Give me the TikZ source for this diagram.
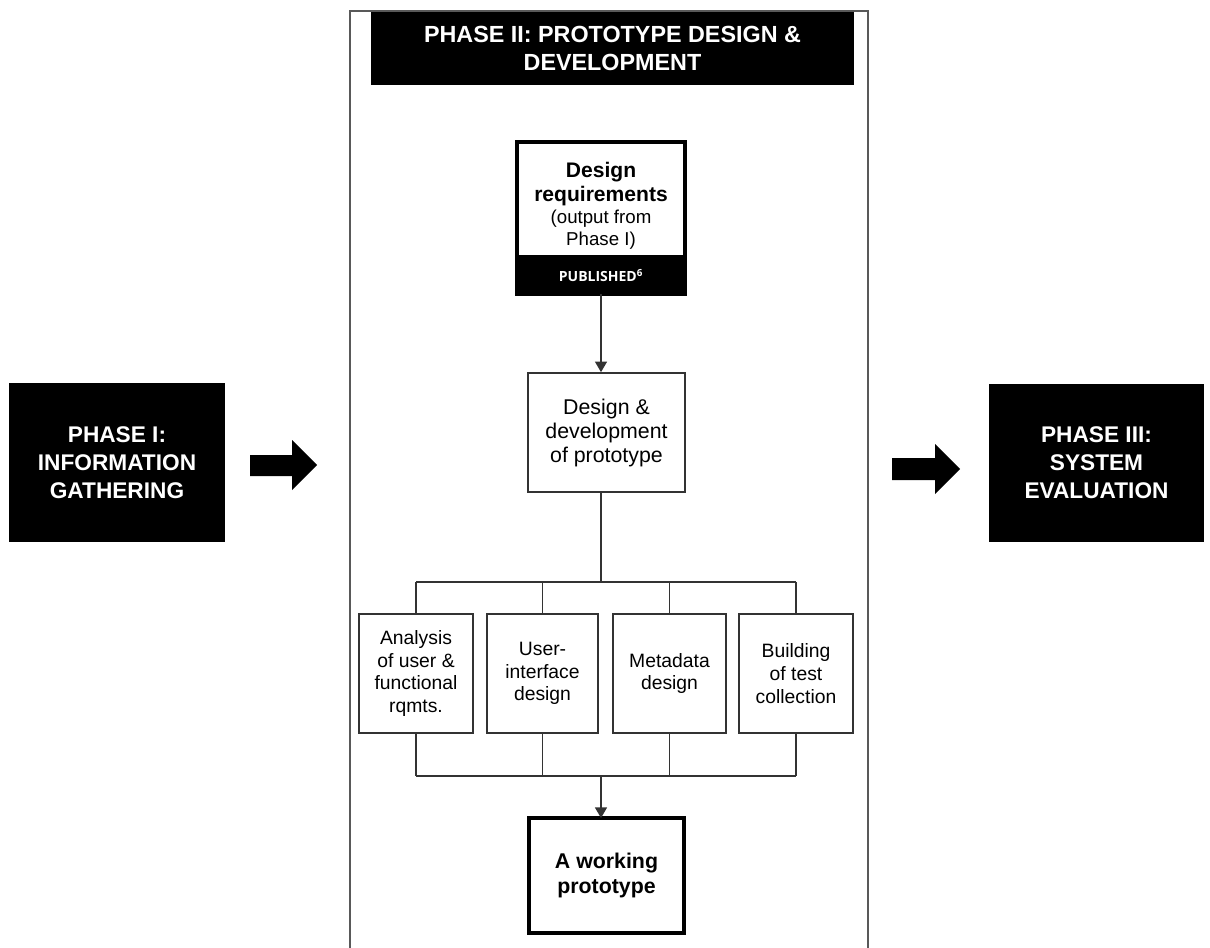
\documentclass[tikz,border=0pt]{standalone}
\usepackage{fontspec}
\setmainfont{Liberation Sans}
\newfontfamily\pubfont{Open Sans}
\usetikzlibrary{arrows.meta,positioning}

\tikzset{
  phasebox/.style={fill=black, text=white, align=center, inner sep=0pt, font=\fontsize{17}{21}\selectfont\bfseries},
  stepbox/.style={draw=black!80, line width=1.2pt, fill=white, align=center, inner sep=0pt, font=\fontsize{14.5}{17}\selectfont},
  thickbox/.style={draw=black, line width=3pt, outer sep=0pt, align=center, inner sep=0pt},
  link/.style={draw=black!80, line width=1.2pt},
  linkarrow/.style={link, -{Triangle[width=9pt,length=8pt]}}
}

\begin{document}
\begin{tikzpicture}[x=0.75pt, y=-0.75pt]
  \useasboundingbox (0,0) rectangle (1210,948);

  % Phase II frame and title
  \draw[black!65, line width=1.4pt] (350,948) -- (350,11) -- (868,11) -- (868,948);
  \node[phasebox, minimum width=362.25pt, minimum height=54.75pt, font=\fontsize{17.5}{21}\selectfont\bfseries] (title) at (612.5,48.5) {PHASE II: PROTOTYPE DESIGN \&\\DEVELOPMENT};

  % Phase I and Phase III
  \node[phasebox, minimum width=162pt, minimum height=119.25pt] (phaseI) at (117,462.5) {PHASE I:\\INFORMATION\\GATHERING};
  \node[phasebox, minimum width=161.25pt, minimum height=118.5pt] (phaseIII) at (1096.5,463) {PHASE III:\\SYSTEM\\EVALUATION};

  % Block arrows
  \fill (250,455) -- (292,455) -- (292,440) -- (317,465) -- (292,490) -- (292,476) -- (250,476) -- cycle;
  \fill (892,458) -- (935,458) -- (935,444) -- (960,469) -- (935,494) -- (935,480) -- (892,480) -- cycle;

  % Design requirements
  \node[thickbox, fill=white, minimum width=126pt, minimum height=86.25pt] (req) at (601,199.5) {};
  \node[align=center, inner sep=0pt, font=\fontsize{14}{16.5}\selectfont] (reqtxt) at (601,205.5)
    {{\fontsize{15.8}{18}\selectfont\bfseries Design}\\[1.5pt]{\fontsize{15.8}{18}\selectfont\bfseries requirements}\\(output from\\Phase I)};
  \node[thickbox, fill=black, text=white, minimum width=126pt, minimum height=27.75pt, below=0pt of req,
    font=\pubfont\bfseries\fontsize{10.5}{12}\selectfont] (pub) {PUBLISHED\textsuperscript{6}};

  % Design & development
  \node[stepbox, minimum width=117.75pt, minimum height=89.25pt, font=\fontsize{16}{18}\selectfont] (dev) at (606.5,432.5) {Design \&\\development\\of prototype};
  \draw[linkarrow] (pub.south) -- (pub.south |- dev.north);

  % Four activities
  \coordinate (bustop) at (601,582);
  \coordinate (busbot) at (601,776);
  \foreach \name/\cx/\w/\txt in {anal/416/85.5/{Analysis\\of user \&\\functional\\rqmts.},
      ui/542.5/83.25/{User-\\interface\\design},
      meta/669.5/84.75/{Metadata\\design},
      build/796/85.5/{Building\\of test\\collection}}
    \node[stepbox, minimum width=\w pt, minimum height=89.25pt] (\name) at (\cx,673.5) {\txt};

  \draw[link] (bustop |- dev.south) -- (bustop);
  \draw[link] (anal.north |- bustop) -- (build.north |- bustop);
  \draw[link] (anal.south |- busbot) -- (build.south |- busbot);
  \foreach \name in {anal,ui,meta,build} {
    \draw[link] (\name.north) -- (\name.north |- bustop);
    \draw[link] (\name.south) -- (\name.south |- busbot);
  }

  % Working prototype
  \node[thickbox, minimum width=116.25pt, minimum height=86.25pt, font=\fontsize{16}{19}\selectfont\bfseries] (work) at (606.5,875.5) {A working\\prototype};
  \draw[linkarrow] (busbot) -- (busbot |- work.north);
\end{tikzpicture}
\end{document}
